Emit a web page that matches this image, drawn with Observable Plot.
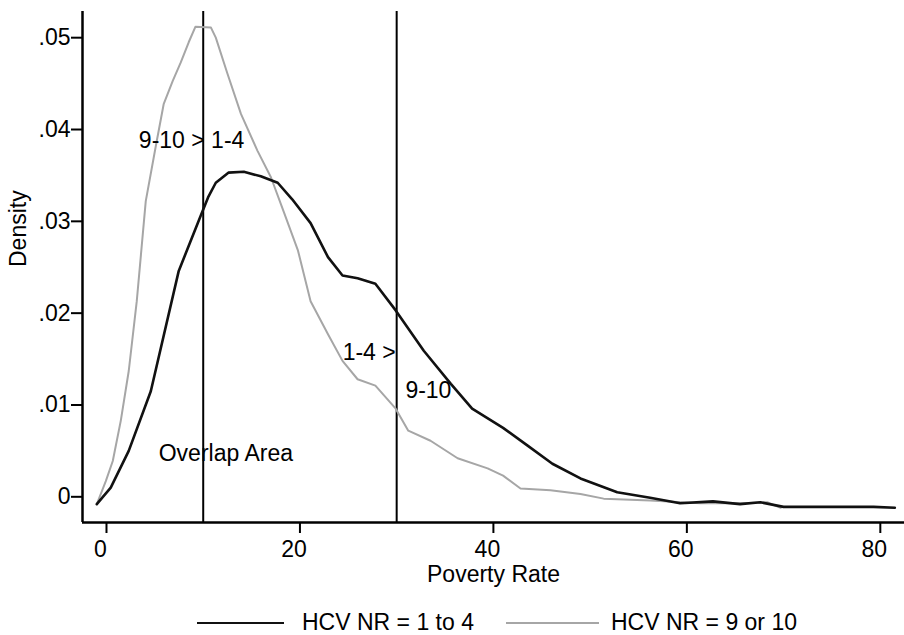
<!DOCTYPE html>
<html>
<head>
<meta charset="utf-8">
<script src="https://cdn.jsdelivr.net/npm/d3@7"></script>
<script src="https://cdn.jsdelivr.net/npm/@observablehq/plot@0.6"></script>
<style>
  html, body { margin: 0; padding: 0; background: #fff; }
  body { width: 904px; height: 635px; overflow: hidden; font-family: "Liberation Sans", Arial, sans-serif; }
  #legend { position: relative; height: 35px; font-size: 23px; color: #000; }
  #legend .item { position: absolute; top: 5px; height: 35px; display: flex; align-items: center; }
  #legend .sw { display: inline-block; height: 0; }
</style>
</head>
<body>
<div id="chart"></div>
<div id="legend"></div>
<script>
// ---- data ----
const seriesNames = ["HCV NR = 1 to 4", "HCV NR = 9 or 10"];

const lowX = [-1.0, 0.44, 2.3, 4.58, 7.47, 9.74, 10.5, 11.3, 12.6, 14.2, 15.95, 17.7, 19.2, 21.1, 22.9, 24.4, 25.96, 27.8, 29.9, 32.8, 35.6, 37.8, 41.0, 43.5, 46.1, 49.0, 52.8, 56.2, 59.3, 62.7, 65.5, 67.6, 70.0, 79.3, 81.5];
const lowY = [0.0004, 0.0022, 0.0062, 0.0127, 0.0258, 0.0318, 0.0338, 0.0354, 0.0365, 0.0366, 0.0361, 0.0354, 0.0336, 0.0310, 0.0273, 0.0253, 0.0250, 0.0244, 0.0215, 0.0171, 0.0135, 0.0108, 0.0087, 0.0068, 0.0048, 0.0032, 0.0017, 0.0011, 0.0005, 0.0007, 0.0004, 0.0006, 0.0001, 0.0001, 0.0000];

const highX = [-1.0, -0.07, 0.65, 1.48, 2.3, 3.13, 4.06, 5.1, 5.92, 6.85, 7.68, 8.5, 9.2, 10.8, 11.3, 12.5, 13.9, 15.6, 17.0, 18.3, 19.8, 21.1, 22.9, 24.4, 25.96, 27.8, 29.9, 31.2, 33.5, 36.3, 39.4, 41.0, 42.8, 45.9, 49.0, 51.4, 56.2, 61.4, 65.5, 68.3, 69.7];
const highY = [0.0004, 0.0029, 0.0051, 0.0095, 0.0149, 0.0225, 0.0334, 0.0394, 0.0440, 0.0465, 0.0485, 0.0507, 0.0524, 0.0523, 0.0512, 0.0473, 0.0429, 0.0389, 0.0360, 0.0323, 0.0280, 0.0225, 0.0189, 0.0160, 0.0140, 0.0133, 0.0108, 0.0084, 0.0073, 0.0054, 0.0043, 0.0035, 0.0021, 0.0019, 0.0015, 0.0010, 0.0008, 0.0005, 0.0005, 0.0006, 0.0000];

const refLines = [10, 30];

const noteText = ["9-10 > 1-4", "1-4 >", "9-10", "Overlap Area"];
const noteX = [8.8, 29.9, 30.9, 5.4];
const noteY = [0.0400, 0.0169, 0.01275, 0.0059];
const noteAnchor = ["middle", "end", "start", "start"];

const xTicks = [0, 20, 40, 60, 80];
const yTicks = [0, 0.01, 0.02, 0.03, 0.04, 0.05];
const yTickLabels = ["0", ".01", ".02", ".03", ".04", ".05"];

const xDomain = [-2.48, 82.5];
const yDomain = [-0.0016, 0.05405];

// ---- build ----
const low = lowX.map((x, i) => ({x, y: lowY[i]}));
const high = highX.map((x, i) => ({x, y: highY[i]}));
const notes = noteText.map((t, i) => ({t, x: noteX[i], y: noteY[i], a: noteAnchor[i]}));

const font = "'Liberation Sans', Arial, sans-serif";
const fs = 23;

const chart = Plot.plot({
  width: 904,
  height: 600,
  marginLeft: 82,
  marginRight: 0,
  marginTop: 11,
  marginBottom: 78,
  x: {domain: xDomain},
  y: {domain: yDomain},
  style: {fontFamily: font, fontSize: fs + "px", color: "#000", background: "#fff", overflow: "visible"},
  marks: [
    Plot.axisY({ticks: yTicks, tickFormat: d => yTickLabels[yTicks.indexOf(d)], tickSize: 11, tickPadding: 1, dy: -11, strokeWidth: 2, label: null, fontSize: fs}),
    Plot.axisX({ticks: xTicks, tickSize: 11, tickFormat: () => "", strokeWidth: 2, label: null}),
    Plot.axisX({ticks: xTicks, tickSize: 0, tickPadding: 18, dx: -6, label: null, fontSize: fs}),
    Plot.text(["Density"], {frameAnchor: "left", rotate: -90, dx: -64, fontSize: fs, fill: "#000"}),
    Plot.text(["Poverty Rate"], {frameAnchor: "bottom", dy: 59, fontSize: fs, fill: "#000"}),
    Plot.ruleX([xDomain[0]], {stroke: "#000", strokeWidth: 2.5}),
    Plot.ruleY([yDomain[0]], {stroke: "#000", strokeWidth: 2.5}),
    Plot.ruleX(refLines, {stroke: "#000", strokeWidth: 2}),
    Plot.line(high, {x: "x", y: "y", stroke: "#a6a6a6", strokeWidth: 2}),
    Plot.line(low, {x: "x", y: "y", stroke: "#111", strokeWidth: 2.6}),
    Plot.text(notes.filter(d => d.a === "middle"), {x: "x", y: "y", text: "t", textAnchor: "middle", fontSize: fs, fill: "#000"}),
    Plot.text(notes.filter(d => d.a === "end"), {x: "x", y: "y", text: "t", textAnchor: "end", fontSize: fs, fill: "#000"}),
    Plot.text(notes.filter(d => d.a === "start"), {x: "x", y: "y", text: "t", textAnchor: "start", fontSize: fs, fill: "#000"})
  ]
});
document.getElementById("chart").appendChild(chart);

// ---- legend ----
const legend = document.getElementById("legend");
const legendColors = ["#111", "#a6a6a6"];
const legendWidths = [2.5, 2];
const legendLeft = [197, 506];
const swatchLen = [87, 93];
seriesNames.forEach((name, i) => {
  const item = document.createElement("div");
  item.className = "item";
  item.style.left = legendLeft[i] + "px";
  const sw = document.createElement("span");
  sw.className = "sw";
  sw.style.width = swatchLen[i] + "px";
  sw.style.borderTop = legendWidths[i] + "px solid " + legendColors[i];
  sw.style.marginRight = (i === 0 ? 18 : 12) + "px";
  const tx = document.createElement("span");
  tx.textContent = name;
  item.appendChild(sw);
  item.appendChild(tx);
  legend.appendChild(item);
});
</script>
</body>
</html>
